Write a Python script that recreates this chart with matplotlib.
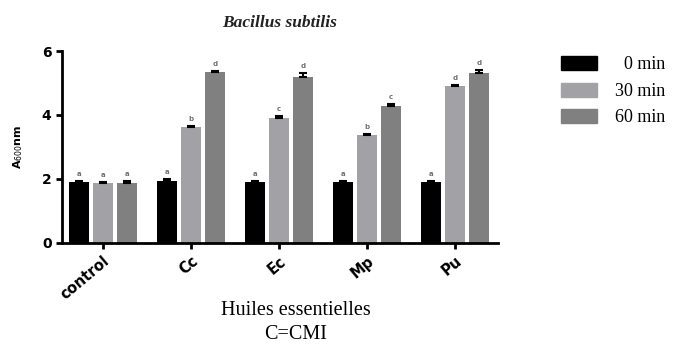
import numpy as np
import matplotlib
matplotlib.use('Agg')
import matplotlib.pyplot as plt
from matplotlib.patches import Patch

# data
groups = ['control', 'Cc', 'Ec', 'Mp', 'Pu']
series = ['0 min', '30 min', '60 min']
vals_0 = [1.92, 1.95, 1.91, 1.91, 1.91]
vals_30 = [1.89, 3.62, 3.92, 3.37, 4.90]
vals_60 = [1.89, 5.34, 5.20, 4.28, 5.32]
err_0 = [0.03, 0.04, 0.03, 0.04, 0.03]
err_30 = [0.03, 0.05, 0.04, 0.05, 0.05]
err_60 = [0.04, 0.04, 0.12, 0.06, 0.09]
letters_0 = ['a', 'a', 'a', 'a', 'a']
letters_30 = ['a', 'b', 'c', 'b', 'd']
letters_60 = ['a', 'd', 'd', 'c', 'd']

colors = ['#000000', '#a2a2a6', '#808080']
width = 0.227
step = 0.273

fig = plt.figure(figsize=(6.81, 3.46), dpi=100)
ax = fig.add_axes([0.091, 0.2977, 0.640, 0.5549])

x = np.arange(len(groups))
all_vals = [vals_0, vals_30, vals_60]
all_err = [err_0, err_30, err_60]
all_letters = [letters_0, letters_30, letters_60]
for i in range(3):
    xs = x + (i - 1) * step
    ax.bar(xs, all_vals[i], width=width, color=colors[i])
    ax.errorbar(xs, all_vals[i], yerr=[np.zeros(5), all_err[i]], fmt='none',
                ecolor='black', elinewidth=1.5, capsize=3, capthick=1.5)
    for xx, v, e, l in zip(xs, all_vals[i], all_err[i], all_letters[i]):
        ax.text(xx, v + e + 0.12, l, ha='center', va='bottom', fontsize=5,
                color='#707070', fontweight='bold')

ax.set_xlim(-0.466, 4.489)
ax.set_ylim(0, 6)
ax.set_yticks([0, 2, 4, 6])
ax.set_yticklabels(['0', '2', '4', '6'], fontweight='bold', fontsize=10)
ax.set_xticks(x)
ax.set_xticklabels(groups, rotation=40, ha='right', rotation_mode='anchor',
                   fontweight='bold', fontsize=10.5)
for s in ['top', 'right']:
    ax.spines[s].set_visible(False)
for s in ['left', 'bottom']:
    ax.spines[s].set_linewidth(2)
ax.tick_params(width=2, length=4)
ax.set_ylabel(r'A$_{600}$nm', fontsize=8, fontweight='bold', labelpad=12)
ax.set_title('Bacillus subtilis', fontsize=12.5, fontstyle='italic',
             fontweight='bold', family='Liberation Serif', pad=17,
             color='#222222')

fig.text(0.434, 0.068, 'Huiles essentielles\nC=CMI', ha='center', va='center',
         family='Liberation Serif', fontsize=14.5, linespacing=1.3)

handles = [Patch(color=c) for c in colors]
fig.legend(handles, ['  0 min', '30 min', '60 min'], loc='upper left',
           bbox_to_anchor=(0.80, 0.885), frameon=False,
           prop={'family': 'Liberation Serif', 'size': 13},
           handlelength=2.0, handleheight=0.85, labelspacing=0.5,
           handletextpad=1.0)

fig.savefig('out.png', dpi=100)
